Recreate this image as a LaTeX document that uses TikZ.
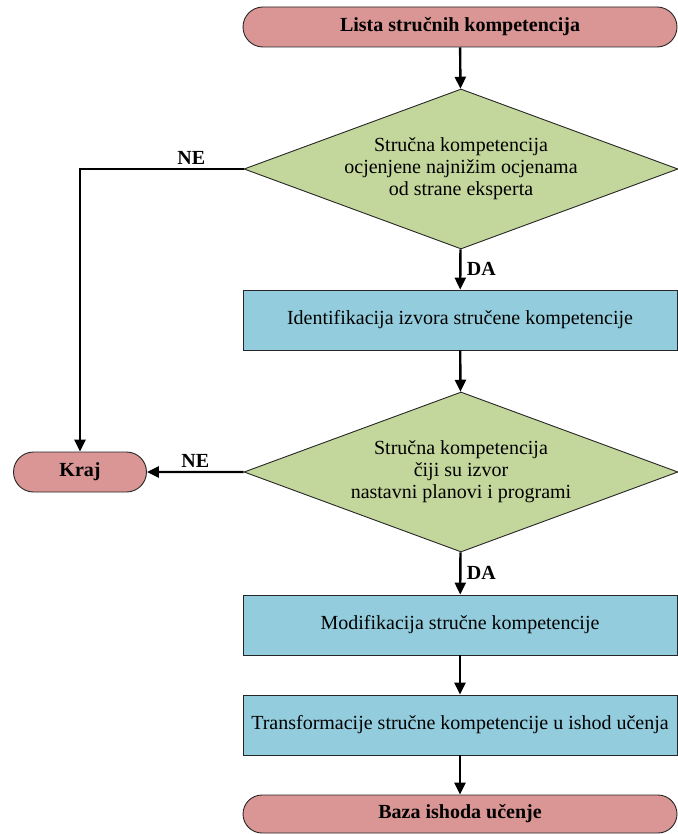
\documentclass[tikz,border=0pt]{standalone}
\usepackage{fontspec}
\setmainfont{Liberation Serif}
\usetikzlibrary{arrows.meta,shapes.geometric,shapes.misc}
\definecolor{termred}{HTML}{D99694}
\definecolor{decgreen}{HTML}{C3D69B}
\definecolor{procblue}{HTML}{93CDDD}

\begin{document}
\begin{tikzpicture}[x=1pt,y=1pt,
  term/.style={rounded rectangle,draw=black!85,line width=0.9pt,fill=termred,minimum height=40pt,inner sep=0pt,font=\fontsize{20}{22}\selectfont\bfseries},
  decision/.style={diamond,draw=black!85,line width=0.9pt,fill=decgreen,minimum width=434pt,minimum height=160pt,aspect=2.7,inner sep=0pt,align=center,font=\fontsize{20}{22}\selectfont},
  proc/.style={rectangle,draw=black!85,line width=0.9pt,fill=procblue,minimum width=434pt,minimum height=60pt,font=\fontsize{20}{22}\selectfont},
  flow/.style={line width=2.4pt,-{Triangle[length=12pt,width=11pt]}},
  lbl/.style={font=\fontsize{20}{22}\selectfont\bfseries}]
\useasboundingbox (0,0) rectangle (677,-834);
\node[term,minimum width=434pt] (lista) at (460,-27) {Lista stručnih kompetencija};
\node[decision] (ocjena) at (461,-169) {Stručna kompetencija\\ocjenjene najnižim ocjenama\\od strane eksperta};
\node[proc] (izvor) at (460,-320) {Identifikacija izvora stručene kompetencije};
\node[decision] (planovi) at (461,-472) {Stručna kompetencija\\čiji su izvor\\nastavni planovi i programi};
\node[term,minimum width=133pt] (kraj) at (80,-472) {Kraj};
\node[proc] (modif) at (460,-625) {Modifikacija stručne kompetencije};
\node[proc] (transf) at (460,-725) {Transformacije stručne kompetencije u ishod učenja};
\node[term,minimum width=434pt,minimum height=38pt] (baza) at (460,-814) {Baza ishoda učenje};
% tok
\draw[flow] (lista) -- (ocjena);
\draw[flow] (ocjena) -- node[lbl,right,xshift=2pt]{DA} (izvor);
\draw[flow] (ocjena.west) -| node[lbl,above,pos=0.16]{NE} (kraj.north);
\draw[flow] (izvor) -- (planovi);
\draw[flow] (planovi) -- node[lbl,above,pos=0.5]{NE} (kraj);
\draw[flow] (planovi) -- node[lbl,right,xshift=2pt]{DA} (modif);
\draw[flow] (modif) -- (transf);
\draw[flow] (transf) -- (baza);
\end{tikzpicture}
\end{document}
